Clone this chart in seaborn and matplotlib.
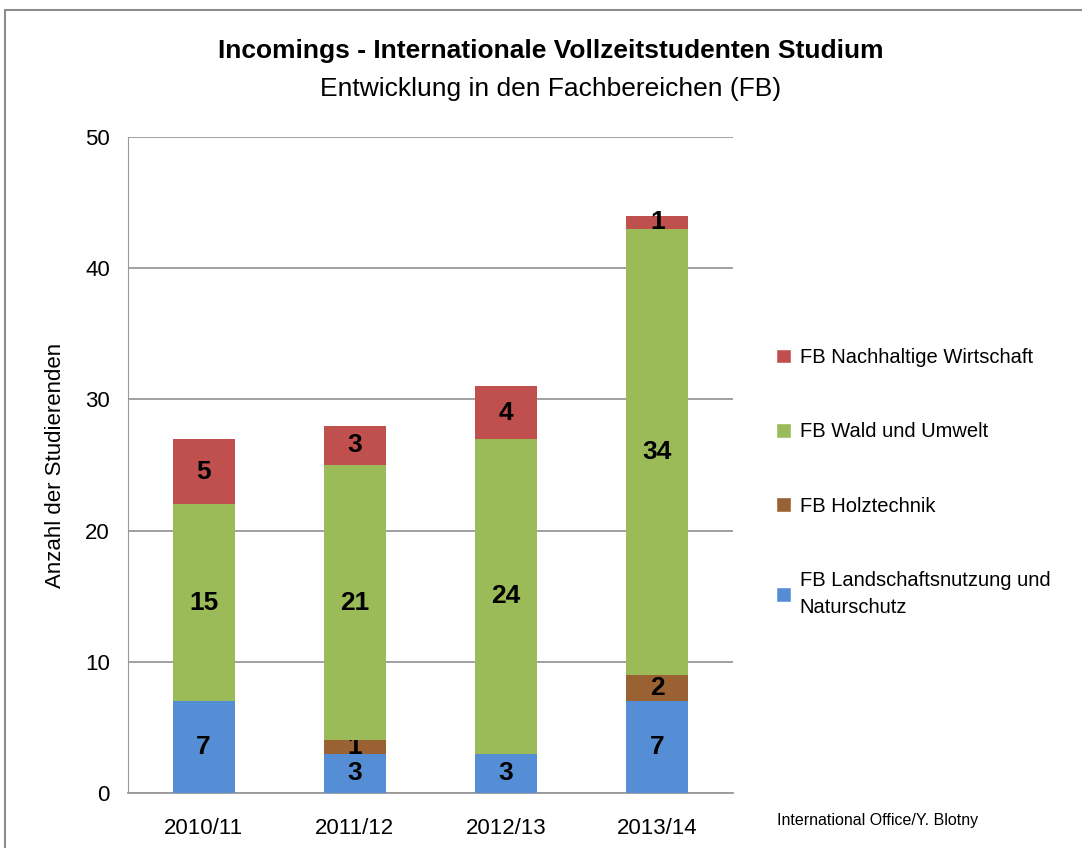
import numpy as np
import pandas as pd
import matplotlib.pyplot as plt
import seaborn as sns
from matplotlib.patches import Patch, Rectangle

years = ["2010/11", "2011/12", "2012/13", "2013/14"]
landschaft = [7, 3, 3, 7]
holz = [0, 1, 0, 2]
wald = [15, 21, 24, 34]
nachhaltig = [5, 3, 4, 1]

series = [
    ("FB Landschaftsnutzung und\nNaturschutz", landschaft, "#558ED5"),
    ("FB Holztechnik", holz, "#9A6232"),
    ("FB Wald und Umwelt", wald, "#9BBB59"),
    ("FB Nachhaltige Wirtschaft", nachhaltig, "#C0504D"),
]

sns.set_style("white")
plt.rcParams['font.family'] = ['Liberation Sans Narrow', 'Liberation Sans', 'DejaVu Sans']
plt.rcParams['text.color'] = 'black'
plt.rcParams['axes.labelcolor'] = 'black'
plt.rcParams['xtick.labelcolor'] = 'black'
plt.rcParams['ytick.labelcolor'] = 'black'

fig = plt.figure(figsize=(10.82, 8.48), dpi=100)
ax = fig.add_axes([0.1183, 0.0649, 0.5591, 0.7735])

bottom = np.zeros(len(years))
for name, vals, color in series:
    sns.barplot(x=years, y=vals, bottom=bottom, color=color, width=0.41, ax=ax,
                linewidth=0, saturation=1, zorder=3)
    cont = ax.containers[-1]
    labels = [str(v) if v > 0 else "" for v in vals]
    ax.bar_label(cont, labels=labels, label_type='center', fontsize=19,
                 fontweight='bold', color='black')
    bottom += np.array(vals)

ax.set_ylim(0, 50)
ax.set_xlim(-0.5, 3.5)
ax.set_yticks(range(0, 51, 10))
ax.yaxis.grid(True, color='#999999', linewidth=1.3, zorder=0)
ax.set_axisbelow(True)
for s in ['top', 'right']:
    ax.spines[s].set_visible(False)
ax.spines['left'].set_color('#999999')
ax.spines['bottom'].set_color('#999999')
ax.spines['bottom'].set_linewidth(1.3)

# x ticks between categories
ax.set_xticks([0, 1, 2, 3])
ax.set_xticklabels(years, fontsize=16)
ax.set_xticks([-0.5, 0.5, 1.5, 2.5, 3.5], minor=True)
ax.tick_params(axis='x', which='major', length=0, pad=18)
ax.tick_params(axis='x', which='minor', length=7, color='#999999', direction='out', width=1.3)
ax.tick_params(axis='y', labelsize=16, length=7, color='#999999', direction='out', width=1.3, pad=6)
ax.set_xlabel("")
ax.set_ylabel("Anzahl der Studierenden", fontsize=16, labelpad=14)

fig.text(0.509, 0.940, "Incomings - Internationale Vollzeitstudenten Studium",
         ha='center', va='center', fontsize=19, fontweight='bold')
fig.text(0.509, 0.895, "Entwicklung in den Fachbereichen (FB)",
         ha='center', va='center', fontsize=19)

handles = [Patch(facecolor=c, label=n) for n, v, c in series[::-1]]
leg = fig.legend(handles=handles, loc='upper left', bbox_to_anchor=(0.7, 0.611),
                 frameon=False, fontsize=14.5, labelspacing=2.75, handlelength=0.75,
                 handleheight=0.75, handletextpad=0.45)
for t in leg.get_texts():
    t.set_linespacing(1.5)

fig.text(0.718, 0.032, "International Office/Y. Blotny", fontsize=11.5, ha='left', va='center')

fig.patches.append(Rectangle((5 / 1082, -0.1), 1.2, 1.1 - 10 / 848, transform=fig.transFigure,
                             fill=False, edgecolor='#8c8c8c', linewidth=1.5))

fig.savefig("out.png", dpi=100)
